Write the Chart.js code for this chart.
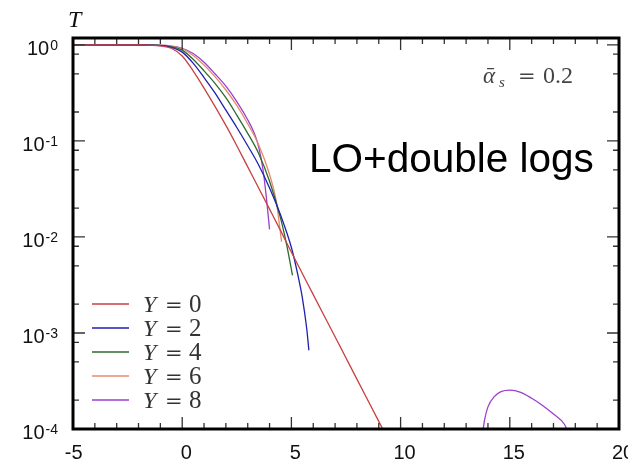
<!DOCTYPE html>
<html>
<head>
<meta charset="utf-8">
<title>T vs x, LO+double logs</title>
<script src="https://cdn.jsdelivr.net/npm/chart.js@4.4.1/dist/chart.umd.min.js"></script>
<style>
  html, body { margin: 0; padding: 0; background: #fff; }
</style>
</head>
<body>
<canvas id="chart" width="628" height="464"></canvas>
<script>
// --- DATA ---
const xRed = [-5, -2, -1.5, -1, -0.5, 0, 0.5, 1, 1.5, 2, 2.5, 3, 3.5, 4, 4.5, 5, 6, 7, 8, 9, 9.5];
const tRed = [1, 1, 0.993, 0.977, 0.923, 0.767, 0.537, 0.355, 0.229, 0.145, 0.0891, 0.0537, 0.0324,
  0.0195, 0.0117, 0.00692, 0.00251, 0.000912, 0.000331, 0.000120, 0.0000724];

const xBlue = [-5, -2, -1.5, -1, -0.5, 0, 0.5, 1, 1.5, 2, 2.5, 3, 3.5, 4, 4.5, 5, 5.3, 5.5, 5.7, 5.8];
const tBlue = [1, 1, 0.995, 0.984, 0.944, 0.841, 0.646, 0.457, 0.316, 0.209, 0.138, 0.0891, 0.0562,
  0.0324, 0.0170, 0.00776, 0.00398, 0.00234, 0.00112, 0.000661];

const xGreen = [-5, -2, -1, -0.5, 0, 0.5, 1, 1.5, 2, 2.5, 3, 3.5, 4, 4.5, 4.8, 5.05];
const tGreen = [1, 1, 0.989, 0.955, 0.881, 0.708, 0.537, 0.398, 0.282, 0.186, 0.120, 0.0741, 0.0380,
  0.0158, 0.00794, 0.00398];

const xOrange = [-5, -2, -1, -0.5, 0, 0.5, 1, 1.5, 2, 2.5, 3, 3.5, 4, 4.3, 4.55];
const tOrange = [1, 1, 0.991, 0.966, 0.912, 0.776, 0.617, 0.468, 0.339, 0.234, 0.151, 0.0912, 0.0447,
  0.0240, 0.00891];

// Y = 8 has a gap and a small bump near x = 15
const xPurple = [-5, -2, -1, -0.5, 0, 0.5, 1, 1.5, 2, 2.5, 3, 3.3, 3.5, 3.7, 3.85, 4.0, 9,
  13.75, 13.85, 14, 14.3, 14.6, 15, 15.5, 16, 16.5, 17, 17.5, 17.7];
const tPurple = [1, 1, 0.993, 0.973, 0.923, 0.813, 0.661, 0.501, 0.372, 0.257, 0.166, 0.120, 0.0871,
  0.0501, 0.0263, 0.0120, null,
  0.0000891, 0.000126, 0.000170, 0.000219, 0.000245, 0.000254, 0.000241, 0.000209, 0.000176,
  0.000143, 0.000112, 0.0000891];

const seriesLabels = ["0", "2", "4", "6", "8"];
const seriesColors = ["#c94040", "#2020b0", "#2d6a2d", "#e38a6c", "#9a3fd0"];

const xMajorTicks = [-5, 0, 5, 10, 15, 20];
const xMinorStep = 1;
const yMajorTicks = [1, 0.1, 0.01, 0.001, 0.0001];
const yMajorExp = ["0", "-1", "-2", "-3", "-4"];
const yMinorMult = [0.8, 0.5, 0.2];

// --- helpers ---
function pts(xs, ts) {
  return xs.map((v, i) => ({ x: v, y: ts[i] }));
}

function line(xs, ts, i) {
  return {
    label: "Y = " + seriesLabels[i],
    data: pts(xs, ts),
    borderColor: seriesColors[i],
    borderWidth: 1.3,
    pointRadius: 0,
    fill: false,
    spanGaps: false,
    cubicInterpolationMode: "monotone"
  };
}

const SERIF = "'Liberation Serif', 'DejaVu Serif', serif";
const SANS = "'Liberation Sans', Arial, sans-serif";

// --- FRAME, TICKS, LABELS ---
const framePlugin = {
  id: "frame",
  afterDatasetsDraw(chart) {
    const { ctx, chartArea: a, scales } = chart;
    const x = scales.x, y = scales.y;
    ctx.save();

    // tick marks, drawn inward on all four sides
    ctx.strokeStyle = "#333";
    ctx.lineWidth = 1.3;
    ctx.beginPath();
    for (let v = x.min; v <= x.max; v += xMinorStep) {
      const px = x.getPixelForValue(v);
      const len = xMajorTicks.includes(v) ? 12 : 6;
      ctx.moveTo(px, a.bottom); ctx.lineTo(px, a.bottom - len);
      ctx.moveTo(px, a.top); ctx.lineTo(px, a.top + len);
    }
    yMajorTicks.forEach(d => {
      const py = y.getPixelForValue(d);
      ctx.moveTo(a.left, py); ctx.lineTo(a.left + 12, py);
      ctx.moveTo(a.right, py); ctx.lineTo(a.right - 12, py);
      if (d > 0.0001) {
        yMinorMult.forEach(m => {
          const pm = y.getPixelForValue(d * m);
          ctx.moveTo(a.left, pm); ctx.lineTo(a.left + 6, pm);
          ctx.moveTo(a.right, pm); ctx.lineTo(a.right - 6, pm);
        });
      }
    });
    ctx.stroke();

    // frame
    ctx.strokeStyle = "#000";
    ctx.lineWidth = 3;
    ctx.strokeRect(a.left, a.top, a.right - a.left, a.bottom - a.top);

    // x tick labels
    ctx.fillStyle = "#111";
    ctx.font = "20px " + SANS;
    ctx.textBaseline = "alphabetic";
    xMajorTicks.forEach(v => {
      const px = x.getPixelForValue(v) + 4;
      const txt = String(Math.abs(v));
      ctx.textAlign = "center";
      ctx.fillText(txt, px, 459);
      if (v < 0) {
        const w = ctx.measureText(txt).width;
        ctx.textAlign = "right";
        ctx.fillText("-", px - w / 2, 459);
      }
    });

    // y tick labels: 10 with superscript exponent
    yMajorTicks.forEach((d, i) => {
      const py = y.getPixelForValue(d);
      ctx.textAlign = "right";
      ctx.font = "14px " + SANS;
      const supW = ctx.measureText(yMajorExp[i]).width;
      ctx.fillText(yMajorExp[i], 58, py + 5);
      ctx.font = "20px " + SANS;
      ctx.fillText("10", 58 - supW - 1, py + 10);
    });

    // axis name T
    ctx.textAlign = "left";
    ctx.font = "italic 24px " + SERIF;
    ctx.fillText("T", 68, 27);

    // legend, lower left
    chart.data.datasets.forEach((ds, i) => {
      const ly = 304 + i * 24;
      ctx.strokeStyle = ds.borderColor;
      ctx.lineWidth = 1.5;
      ctx.beginPath();
      ctx.moveTo(92, ly); ctx.lineTo(129, ly);
      ctx.stroke();
      ctx.fillStyle = "#333";
      ctx.font = "italic 24px " + SERIF;
      ctx.fillText("Y", 143, ly + 8);
      ctx.font = "21px 'DejaVu Serif', serif";
      ctx.fillText("=", 165, ly + 8);
      ctx.font = "25px " + SERIF;
      ctx.fillText(seriesLabels[i], 189, ly + 8);
    });

    // alpha_s annotation
    ctx.fillStyle = "#444";
    ctx.font = "italic 23px " + SERIF;
    ctx.fillText("ᾱ", 483, 83);
    ctx.font = "italic 15px " + SERIF;
    ctx.fillText("s", 499, 87);
    ctx.font = "21px 'DejaVu Serif', serif";
    ctx.fillText("=", 518, 83);
    ctx.font = "24px " + SERIF;
    ctx.fillText("0.2", 543, 83);

    // big label
    ctx.fillStyle = "#000";
    ctx.font = "40.5px " + SANS;
    ctx.fillText("LO+double logs", 309, 172);

    ctx.restore();
  }
};

// --- CHART ---
const ctx = document.getElementById("chart").getContext("2d");
new Chart(ctx, {
  type: "line",
  data: {
    datasets: [
      line(xRed, tRed, 0),
      line(xBlue, tBlue, 1),
      line(xGreen, tGreen, 2),
      line(xOrange, tOrange, 3),
      line(xPurple, tPurple, 4)
    ]
  },
  options: {
    responsive: false,
    animation: false,
    layout: { padding: { left: 73, right: 9, top: 38, bottom: 35 } },
    plugins: {
      legend: { display: false },
      tooltip: { enabled: false }
    },
    scales: {
      x: { type: "linear", min: -5, max: 20, display: false },
      y: { type: "logarithmic", min: 0.0001, max: 1.18, display: false }
    }
  },
  plugins: [framePlugin]
});
</script>
</body>
</html>
